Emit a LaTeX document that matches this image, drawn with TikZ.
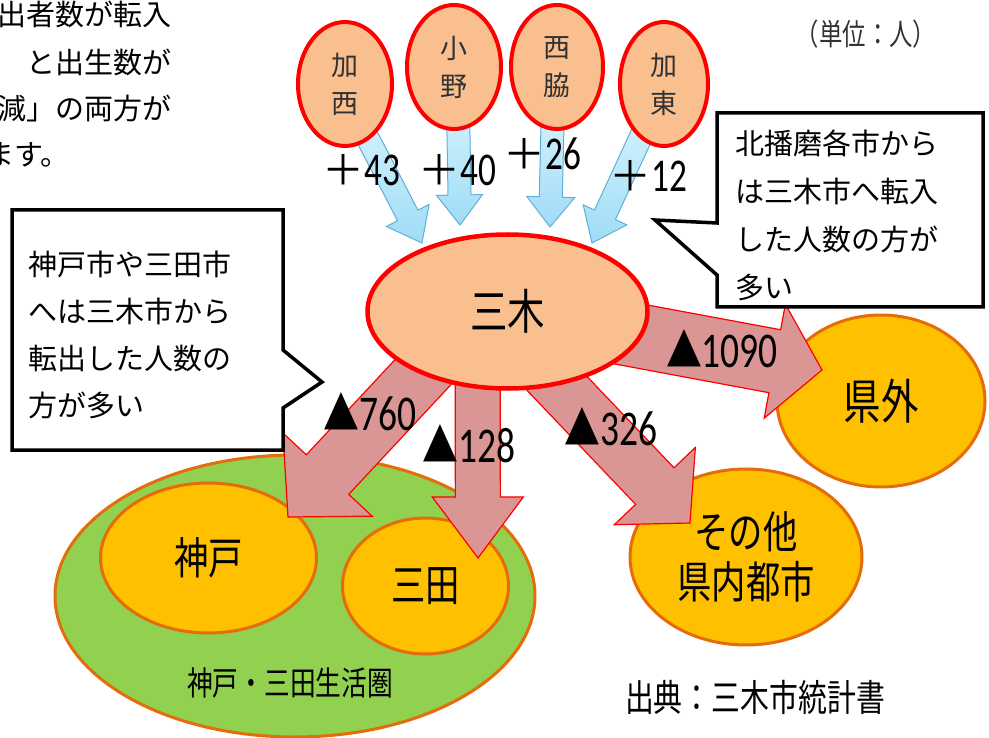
\documentclass[tikz,border=0pt]{standalone}
\usepackage{fontspec}
\setmainfont{Noto Sans CJK JP}
\newfontfamily\numfont[FakeStretch=0.75]{Carlito}
\newfontfamily\narrowjp[FakeStretch=0.78]{Noto Sans CJK JP}
\usetikzlibrary{shapes.geometric, calc, positioning}

\definecolor{peach}{RGB}{250,191,143}
\definecolor{mikired}{RGB}{255,0,0}
\definecolor{cityorange}{RGB}{255,192,0}
\definecolor{rimorange}{RGB}{228,108,10}
\definecolor{areagreen}{RGB}{146,208,80}
\definecolor{outpink}{RGB}{217,150,148}
\definecolor{inblue}{RGB}{160,220,246}
\definecolor{inbluetop}{RGB}{212,243,253}
\definecolor{inblueline}{RGB}{95,175,215}
\definecolor{textgray}{RGB}{50,50,50}

\pgfdeclarelayer{back}
\pgfdeclarelayer{mid}
\pgfsetlayers{back,mid,main}

% block arrow: [style]{start}{tip}{half shaft}{half head}{head length}
\newcommand{\fatarrow}[6][]{%
  \draw[#1] let \p1=#2, \p2=#3, \p3=($(\p2)-(\p1)$),
      \n1={atan2(\y3,\x3)}, \n2={veclen(\x3,\y3)-#6pt} in
    ($(\p1)+(\n1+90:#4pt)$) -- ($(\p1)+(\n1:\n2)+(\n1+90:#4pt)$)
    -- ($(\p1)+(\n1:\n2)+(\n1+90:#5pt)$) -- (\p2)
    -- ($(\p1)+(\n1:\n2)+(\n1-90:#5pt)$) -- ($(\p1)+(\n1:\n2)+(\n1-90:#4pt)$)
    -- ($(\p1)+(\n1-90:#4pt)$) -- cycle;}
\newcommand{\plusn}[1]{{\fontsize{42}{42}\selectfont ＋}{\numfont\fontsize{47}{47}\selectfont #1}}
\newcommand{\lossn}[1]{{\narrowjp\fontsize{46}{46}\selectfont ▲}{\numfont\fontsize{50}{50}\selectfont #1}}

\begin{document}
\begin{tikzpicture}[x=1pt, y=-1pt,
    town/.style={ellipse, draw=mikired, line width=4pt, fill=peach, inner sep=0pt,
      align=center, text=textgray, font=\fontsize{27}{38}\selectfont},
    city/.style={ellipse, draw=rimorange, line width=3pt, fill=cityorange, inner sep=0pt,
      align=center, font=\narrowjp\fontsize{44}{50}\selectfont},
    inflow/.style={top color=inbluetop, bottom color=inblue, draw=inblueline, line width=1pt},
    outflow/.style={fill=outpink, draw=mikired, line width=1.2pt},
    balloon/.style={fill=white, draw=black, line width=3.5pt},
    note/.style={anchor=west, align=left, inner sep=0pt},
    intro/.style={anchor=east, inner sep=0pt, font=\fontsize{29}{29}\selectfont},
    count/.style={inner sep=0pt}]
  \path[use as bounding box] (0,0) rectangle (989,738);
  \clip (0,0) rectangle (989,738);

  % text cut off at the left edge
  \node[intro] (introa) at (172,14) {出者数が転入};
  \node[intro] (introb) at (172,62) {と出生数が};
  \node[intro] (introc) at (172,108) {減」の両方が};
  \node[intro] (introd) at (70,155) {ます。};

  % towns
  \node[town, minimum width=94pt, minimum height=124pt] (kasai) at (345,84) {加\\西};
  \node[town, minimum width=94pt, minimum height=124pt] (ono) at (454,67) {小\\野};
  \node[town, minimum width=92pt, minimum height=124pt] (nishiwaki) at (557,67) {西\\脇};
  \node[town, minimum width=88pt, minimum height=124pt] (kato) at (664,84) {加\\東};
  \node[town, line width=4.5pt, minimum width=280pt, minimum height=154pt, text=black,
    font=\narrowjp\fontsize{48}{48}\selectfont] (miki) at (507.5,311.5) {三木};

  \coordinate (t43) at (422,243);
  \coordinate (t40) at (460,225);
  \coordinate (t26) at (550,227);
  \coordinate (t12) at (592,243);
  \coordinate (t1090) at (822,370);
  \coordinate (t760) at (288,517);
  \coordinate (t128) at (478,558);
  \coordinate (t326) at (690,523);

  \begin{pgfonlayer}{back}
    \node[city, fill=areagreen, minimum width=480pt, minimum height=282pt] (area) at (295,596) {};
    \node[city, minimum width=216pt, minimum height=150pt] (kobe) at (208.5,558) {神戸};
    \node[city, minimum width=166pt, minimum height=136pt] (sanda) at (425.5,586) {三田};
    \node[city, minimum width=232pt, minimum height=176pt] (sonota) at (746,557) {その他\\県内都市};
    \node[city, minimum width=208pt, minimum height=172pt, font=\narrowjp\fontsize{48}{48}\selectfont] (kengai) at (881,401) {県外};

    \fatarrow[inflow]{($(kasai)!0.6!(kasai.-70)$)}{(t43)}{11.5}{24}{31}
    \fatarrow[inflow]{($(ono)!0.6!(ono.-84)$)}{(t40)}{11.5}{23}{30}
    \fatarrow[inflow]{($(nishiwaki)!0.6!(nishiwaki.-96)$)}{(t26)}{11.5}{24}{30}
    \fatarrow[inflow]{($(kato)!0.6!(kato.-113)$)}{(t12)}{11.5}{24}{31}
  \end{pgfonlayer}

  \begin{pgfonlayer}{mid}
    \fatarrow[outflow]{(miki)}{(t1090)}{32}{58}{48}
    \fatarrow[outflow]{($(miki)+(-28,0)$)}{(t760)}{29}{61}{58}
    \fatarrow[outflow]{($(miki)+(-30,0)$)}{(t128)}{22.5}{45.5}{61}
    \fatarrow[outflow]{($(miki)+(-19,0)$)}{(t326)}{26.5}{56}{51}
  \end{pgfonlayer}

  \node[count] (n43) at (361,170) {\plusn{43}};
  \node[count] (n40) at (457,170) {\plusn{40}};
  \node[count] (n26) at (542,154) {\plusn{26}};
  \node[count] (n12) at (648,176) {\plusn{12}};
  \node[count] (n1090) at (722,349) {\lossn{1090}};
  \node[count] (n760) at (370,412) {\lossn{760}};
  \node[count] (n128) at (469,444) {\lossn{128}};
  \node[count] (n326) at (611,427) {\lossn{326}};

  \node[font=\narrowjp\fontsize{33}{33}\selectfont] (areaname) at (290,683) {神戸・三田生活圏};
  \node[font=\narrowjp\fontsize{37}{37}\selectfont] (source) at (755,697) {出典：三木市統計書};
  \node[font=\narrowjp\fontsize{30}{30}\selectfont, text=textgray] (unit) at (866,34) {（単位：人）};

  % callouts
  \draw[balloon] (12,210) -- (283,210) -- (283,350) -- (322,382) -- (283,408)
    -- (283,450) -- (12,450) -- cycle;
  \node[note, font=\fontsize{29}{47}\selectfont] (kobenote) at (28,335)
    {神戸市や三田市\\へは三木市から\\転出した人数の\\方が多い};
  \draw[balloon] (717,113) -- (983,113) -- (983,307) -- (717,307) -- (717,275)
    -- (655,220) -- (717,223) -- cycle;
  \node[note, font=\fontsize{29}{48}\selectfont] (northnote) at (735,215)
    {北播磨各市から\\は三木市へ転入\\した人数の方が\\多い};
\end{tikzpicture}
\end{document}
